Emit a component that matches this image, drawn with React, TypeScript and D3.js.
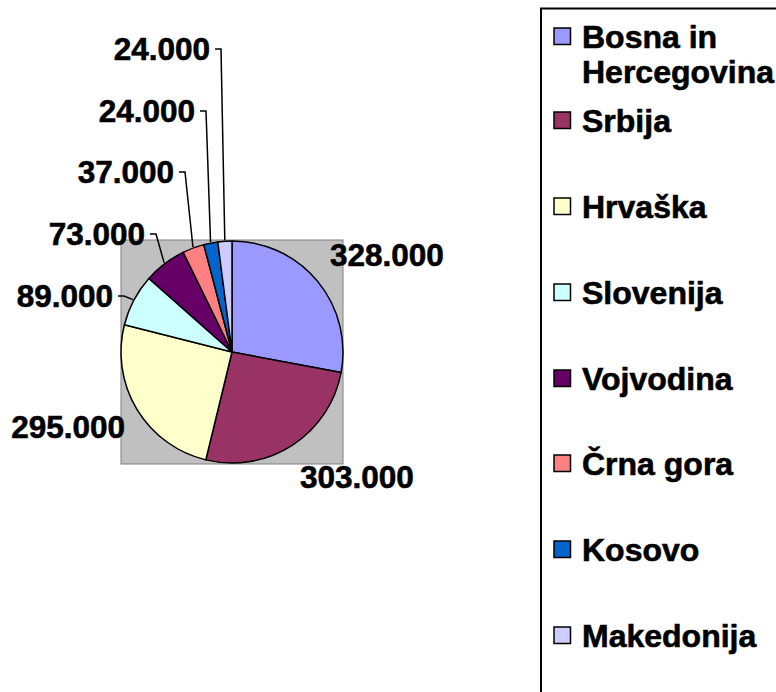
import React from "react";
import * as d3 from "d3";

const categories = ["Bosna in Hercegovina", "Srbija", "Hrvaška", "Slovenija", "Vojvodina", "Črna gora", "Kosovo", "Makedonija"];
const values = [328000, 303000, 295000, 89000, 73000, 37000, 24000, 24000];
const valueLabels = ["328.000", "303.000", "295.000", "89.000", "73.000", "37.000", "24.000", "24.000"];
const colors = ["#9999FF", "#993366", "#FFFFCC", "#CCFFFF", "#660066", "#FF8080", "#0066CC", "#CCCCFF"];
const legendLines = [["Bosna in", "Hercegovina"], ["Srbija"], ["Hrvaška"], ["Slovenija"], ["Vojvodina"], ["Črna gora"], ["Kosovo"], ["Makedonija"]];

// layout (label placement)
const labelLayout = [
  { x: 330, y: 266, anchor: "start", leader: false },
  { x: 300, y: 488, anchor: "start", leader: false },
  { x: 125, y: 438, anchor: "end", leader: false },
  { x: 113, y: 307, anchor: "end", leader: true },
  { x: 145, y: 245, anchor: "end", leader: true },
  { x: 174, y: 183, anchor: "end", leader: true },
  { x: 195, y: 122, anchor: "end", leader: true },
  { x: 210, y: 60, anchor: "end", leader: true },
];

const W = 776;
const H = 692;
const cx = 232;
const cy = 352;
const R = 111;
const FONT = "'Liberation Sans', Arial, Helvetica, sans-serif";

export default function App() {
  const pie = d3.pie<number>().sort(null).value((d) => d)(values);
  const arc = d3.arc<d3.PieArcDatum<number>>().innerRadius(0).outerRadius(R);

  const legendX = 541;
  const legendTop = 8.5;
  const lineH = 35;
  const itemBaselines = [48, 132, 218, 304, 390, 475, 561, 647];

  return (
    <svg width={W} height={H} style={{ display: "block" }}>
      <style>{`body{margin:0}`}</style>
      <rect x={0} y={0} width={W} height={H} fill="#ffffff" />
      {/* plot area */}
      <rect x={121} y={240} width={222} height={224} fill="#C0C0C0" stroke="#808080" strokeWidth={1} />
      <g transform={`translate(${cx},${cy})`}>
        {pie.map((p, i) => (
          <path key={categories[i]} d={arc(p) || ""} fill={colors[i]} stroke="#000" strokeWidth={1.5} strokeLinejoin="round" />
        ))}
      </g>
      {/* leader lines */}
      {pie.map((p, i) => {
        const L = labelLayout[i];
        if (!L.leader) return null;
        const mid = (p.startAngle + p.endAngle) / 2;
        const ex = cx + (R + 1) * Math.sin(mid);
        const ey = cy - (R + 1) * Math.cos(mid);
        const ly = L.y - 11;
        const x0 = L.x + 5;
        const x1 = L.x + 11;
        return (
          <polyline key={"l" + i} points={`${x0},${ly} ${x1},${ly} ${ex},${ey}`} fill="none" stroke="#000" strokeWidth={1.5} />
        );
      })}
      {/* labels */}
      {valueLabels.map((t, i) => {
        const L = labelLayout[i];
        return (
          <text key={"t" + i} x={L.x} y={L.y} textAnchor={L.anchor} fontFamily={FONT} fontWeight="bold" fontSize={31.5} fill="#000" stroke="#000" strokeWidth={0.6}>
            {t}
          </text>
        );
      })}
      {/* legend */}
      <rect x={legendX} y={legendTop} width={W} height={H} fill="none" stroke="#000" strokeWidth={2} />
      {categories.map((c, i) => {
        const b = itemBaselines[i];
        return (
          <g key={"lg" + i}>
            <rect x={554} y={b - 20} width={16.5} height={16.5} fill={colors[i]} stroke="#000" strokeWidth={1.5} />
            {legendLines[i].map((ln, j) => (
              <text key={j} x={582} y={b + j * lineH} fontFamily={FONT} fontWeight="bold" fontSize={32} fill="#000" stroke="#000" strokeWidth={0.6}>
                {ln}
              </text>
            ))}
          </g>
        );
      })}
    </svg>
  );
}
